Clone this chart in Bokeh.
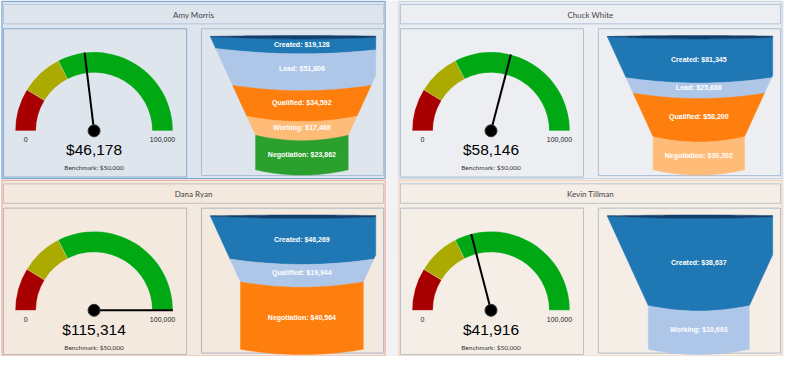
import math
import numpy as np
from bokeh.plotting import figure
from bokeh.models import Range1d
from bokeh.core.properties import value
from bokeh.embed import file_html
from bokeh.resources import INLINE

# ---------------- data ----------------
reps = ["Amy Morris", "Chuck White", "Dana Ryan", "Kevin Tillman"]
actual = [46178, 58146, 115314, 41916]
benchmark = [50000, 50000, 50000, 50000]
gauge_min = 0
gauge_max = 100000
band_breaks = [0, 17500, 35000, 100000]
band_colors = ["#a80000", "#aaaa00", "#00a814"]

amy_stages = ["Created", "Lead", "Qualified", "Working", "Negotiation"]
amy_values = [19128, 51806, 34592, 17468, 23862]
chuck_stages = ["Created", "Lead", "Qualified", "Negotiation"]
chuck_values = [81345, 25686, 58200, 30202]
dana_stages = ["Created", "Qualified", "Negotiation"]
dana_values = [46269, 19944, 40564]
kevin_stages = ["Created", "Working"]
kevin_values = [38637, 10693]
stage_colors = ["#1f77b4", "#aec7e8", "#ff7f0e", "#ffbb78", "#2ca02c"]

funnels = [(amy_stages, amy_values), (chuck_stages, chuck_values),
           (dana_stages, dana_values), (kevin_stages, kevin_values)]

# ---------------- layout / style ----------------
col_dx = [0, 403, 0, 403]
row_dy = [0, 0, 184.5, 184.5]
outer_top = [5, 5, 189, 189]
outer_bot = [187, 187, 369.5, 369.5]
panel_style = [
    dict(bg="#dee5ed", outer="#79a7d4", title="#b3c6da", gauge="#86acd3", funnel="#a9bdd3"),
    dict(bg="#eceef2", outer="#c9d6e5", title="#b0c4d9", gauge="#a9bfd7", funnel="#a9bfd7"),
    dict(bg="#f4e9de", outer="#efb3a3", title="#c9bfb9", gauge="#bdb5b8", funnel="#aab6c5"),
    dict(bg="#f4eee7", outer="#f4d3c1", title="#bdc4cc", gauge="#b5bdc7", funnel="#b5bdc7"),
]
GUTTER = "#f2f2f4"

p = figure(width=784, height=356, x_range=Range1d(2, 798), y_range=Range1d(370, 4),
           output_backend="svg", toolbar_location=None, min_border=0,
           x_axis_location=None, y_axis_location=None)
p.xgrid.visible = False
p.ygrid.visible = False
p.outline_line_color = None
p.background_fill_color = GUTTER
p.border_fill_color = GUTTER

KX = 796 / 784.0  # data units per screen px (x)


def clip_x(xs, ys, xmax):
    """Sutherland-Hodgman clip of polygon against half-plane x <= xmax."""
    out_x, out_y = [], []
    n = len(xs)
    for i in range(n):
        x1, y1 = xs[i - 1], ys[i - 1]
        x2, y2 = xs[i], ys[i]
        in1, in2 = x1 <= xmax, x2 <= xmax
        if in2:
            if not in1:
                t = (xmax - x1) / (x2 - x1)
                out_x.append(xmax); out_y.append(y1 + t * (y2 - y1))
            out_x.append(x2); out_y.append(y2)
        elif in1:
            t = (xmax - x1) / (x2 - x1)
            out_x.append(xmax); out_y.append(y1 + t * (y2 - y1))
    return out_x, out_y


T = np.linspace(-1, 1, 41)

for q in range(4):
    dx, dy = col_dx[q], row_dy[q]
    st = panel_style[q]
    # panel + boxes
    p.quad(left=[3.5 + dx], right=[392.5 + dx], top=[outer_top[q]], bottom=[outer_bot[q]],
           fill_color=st["bg"], line_color=st["outer"], line_width=1.2)
    p.quad(left=[5 + dx], right=[391 + dx], top=[8 + dy], bottom=[28 + dy],
           fill_color=st["bg"], line_color=st["title"], line_width=1)
    p.quad(left=[5 + dx], right=[191 + dx], top=[33 + dy], bottom=[outer_bot[q] - 1.5],
           fill_color=st["bg"], line_color=st["gauge"], line_width=1)
    p.quad(left=[206 + dx], right=[391 + dx], top=[33 + dy], bottom=[outer_bot[q] - 3],
           fill_color=st["bg"], line_color=st["funnel"], line_width=1)

    p.text(x=[198 + dx], y=[18.5 + dy], text=[reps[q]], text_font=value("Lato"),
           text_font_size="8px", text_color="#444444", text_align="center",
           text_baseline="middle")

    # ---------- gauge ----------
    gx, gy = 97 + dx, 138 + dy
    span = gauge_max - gauge_min
    starts, ends = [], []
    for b in range(3):
        f1 = (band_breaks[b] - gauge_min) / span
        f2 = (band_breaks[b + 1] - gauge_min) / span
        starts.append(math.pi * (1 - f2))
        ends.append(math.pi * (1 - f1))
    p.annular_wedge(x=[gx] * 3, y=[gy] * 3, inner_radius=59, outer_radius=80,
                    start_angle=starts, end_angle=ends, fill_color=band_colors,
                    line_color="#ffffff", line_alpha=0.35, line_width=0.6)
    v = min(max(actual[q], gauge_min), gauge_max)
    ang = math.pi * (1 - (v - gauge_min) / span)
    p.ray(x=[gx], y=[gy], length=80 / KX, length_units="screen", angle=[ang],
          line_color="black", line_width=2)
    p.scatter(x=[gx], y=[gy], size=12, fill_color="black", line_color="#333333",
              line_width=1)
    p.text(x=[gx - 69.5, gx + 69.5], y=[gy + 9, gy + 9],
           text=["{:,}".format(gauge_min), "{:,}".format(gauge_max)],
           text_font=value("Liberation Sans"), text_font_size="7px", text_color="#222222",
           text_align="center", text_baseline="middle")
    p.text(x=[gx], y=[gy + 19.5], text=["${:,}".format(actual[q])],
           text_font=value("Liberation Sans"), text_font_size="15.5px", text_color="black",
           text_align="center", text_baseline="middle")
    p.text(x=[gx], y=[gy + 38], text=["Benchmark: ${:,}".format(benchmark[q])],
           text_font=value("Lato"), text_font_size="6.5px", text_color="#333333",
           text_align="center", text_baseline="middle")

    # ---------- funnel (block areas proportional to values, last block pinched) ----------
    stages, vals = funnels[q]
    n = len(vals)
    FW, FH = 186.0, 137.0
    WB = FW / 3.0
    k = (FW - WB) / (2 * FH)
    top = 41 + dy
    cx = 308 + dx
    xmax = 383 + dx
    sag = 5.5
    rim_sag = 2.5
    a_tot = FH * (FW + WB) / 2
    cum = np.cumsum(vals) / float(sum(vals))
    hs = [0.0]
    for c in cum[:-1]:
        A = c * a_tot
        hs.append((FW - math.sqrt(FW * FW - 4 * k * A)) / (2 * k))
    hs.append(FH)
    hws = [(FW - 2 * k * h) / 2 for h in hs[:-1]]
    hws.append(hws[-1])

    def curve(j):
        s = rim_sag if j == 0 else sag
        xs = cx + hws[j] * T
        ys = top + hs[j] + s * (1 - T ** 2)
        return list(xs), list(ys)

    bx, by, bc = [], [], []
    for i in range(n):
        x1, y1 = curve(i)
        x2, y2 = curve(i + 1)
        xs = x1 + x2[::-1]
        ys = y1 + y2[::-1]
        xs, ys = clip_x(xs, ys, xmax)
        bx.append(xs); by.append(ys); bc.append(stage_colors[i % len(stage_colors)])
    p.patches(xs=bx, ys=by, fill_color=bc, line_color=bc, line_width=0.5)
    # top rim
    ux = list(cx + hws[0] * T)
    uy = list(top - 1.0 * (1 - T ** 2))
    lx, ly = curve(0)
    ox, oy = clip_x(ux + lx[::-1], uy + ly[::-1], xmax)
    p.patch(x=ox, y=oy, fill_color="#123f6c", line_color="#123f6c", line_width=0.5)

    lab_y = [top + (hs[i] + hs[i + 1]) / 2 + 2 for i in range(n)]
    labels = ["{}: ${:,}".format(s, vv) for s, vv in zip(stages, vals)]
    p.text(x=[cx] * n, y=lab_y, text=labels, text_font=value("Liberation Sans"),
           text_font_size="7px", text_font_style="bold", text_color="white",
           text_align="center", text_baseline="middle")

open("out.html", "w").write(file_html(p, INLINE))
